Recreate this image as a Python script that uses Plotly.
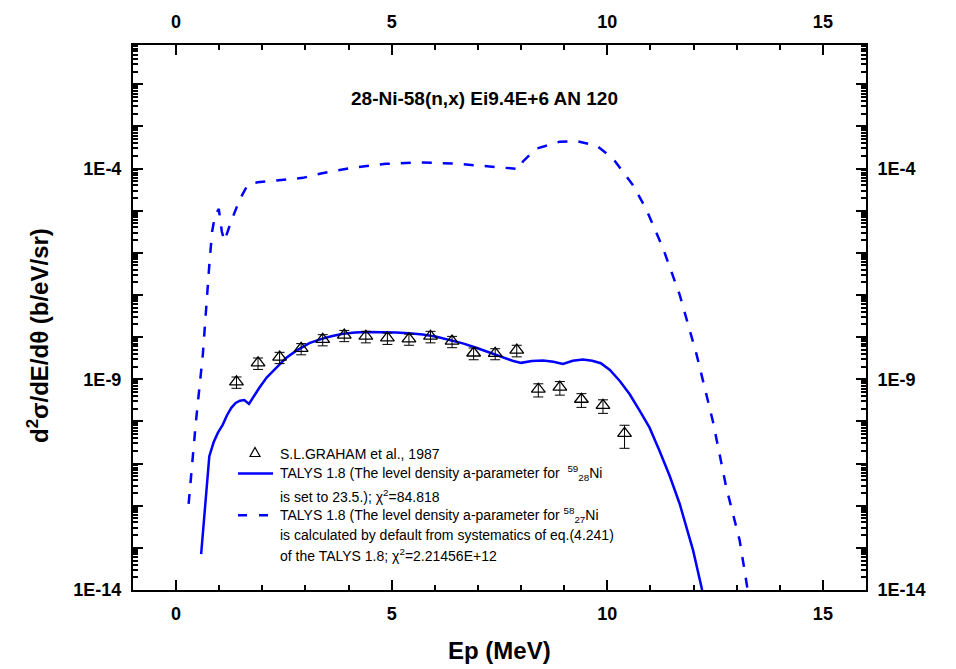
import plotly.graph_objects as go

# ---- Experimental points: S.L. Graham et al., 1987 ----
exp_energy = [1.4, 1.9, 2.4, 2.9, 3.4, 3.9, 4.4, 4.9, 5.4, 5.9,
              6.4, 6.9, 7.4, 7.9, 8.4, 8.9, 9.4, 9.9, 10.4]
exp_xs = [8.7e-10, 2.45e-9, 3.35e-9, 5.4e-9, 8.8e-9, 1.11e-8, 1.05e-8, 9.6e-9, 9.1e-9, 1.05e-8,
          8.0e-9, 4.2e-9, 4.1e-9, 4.9e-9, 5.8e-10, 6.5e-10, 3.35e-10, 2.4e-10, 5.2e-11]
exp_err = [2.6e-10, 7.4e-10, 1.0e-9, 1.6e-9, 2.6e-9, 3.3e-9, 3.2e-9, 2.9e-9, 2.7e-9, 3.2e-9,
           2.4e-9, 1.3e-9, 1.2e-9, 1.5e-9, 2.0e-10, 2.3e-10, 1.2e-10, 8.5e-11, 2.9e-11]

# ---- TALYS 1.8, a-parameter for 59Ni set to 23.5 ----
talys_a_energy = [0.58, 0.77, 0.87, 0.97, 1.08, 1.18, 1.28, 1.38, 1.48, 1.58,
                  1.69, 1.80, 1.93, 2.10, 2.32, 2.55, 2.78, 3.09, 3.32, 3.60,
                  3.87, 4.15, 4.45, 4.80, 5.10, 5.40, 5.72, 6.04, 6.34, 6.65,
                  6.96, 7.27, 7.58, 7.80, 8.00, 8.25, 8.51, 8.75, 8.97, 9.20,
                  9.43, 9.65, 9.85, 10.06, 10.29, 10.52, 10.75, 10.98, 11.21, 11.45,
                  11.68, 11.85, 11.99, 12.20, 12.25]
talys_a_xs = [7.1e-14, 1.5e-11, 3.2e-11, 5.4e-11, 8.3e-11, 1.4e-10, 2.1e-10, 2.75e-10, 3.1e-10, 3.2e-10,
              2.6e-10, 4.0e-10, 6.3e-10, 1.1e-9, 1.9e-9, 3.2e-9, 4.7e-9, 7.2e-9, 8.7e-9, 1.05e-8,
              1.2e-8, 1.29e-8, 1.33e-8, 1.32e-8, 1.29e-8, 1.23e-8, 1.15e-8, 1.02e-8, 8.7e-9, 7.1e-9,
              5.6e-9, 4.3e-9, 3.2e-9, 2.75e-9, 2.45e-9, 2.7e-9, 2.8e-9, 2.6e-9, 2.3e-9, 2.75e-9,
              2.95e-9, 2.75e-9, 2.4e-9, 1.66e-9, 9.1e-10, 4.4e-10, 1.8e-10, 7.1e-11, 2.0e-11, 5.0e-12,
              1.1e-12, 2.8e-13, 8.7e-14, 1.0e-14, 6.3e-15]

# ---- TALYS 1.8, default a-parameter from systematics ----
talys_d_energy = [0.29, 0.46, 0.62, 0.70, 0.77, 0.835, 0.905, 0.99, 1.06, 1.12,
                  1.275, 1.47, 1.66, 1.89, 2.40, 2.94, 3.36, 4.10, 4.87, 5.65,
                  6.42, 7.19, 7.965, 8.04, 8.35, 8.89, 9.28, 9.75, 10.13, 10.59,
                  10.90, 11.29, 11.68, 12.07, 12.45, 12.76, 13.07, 13.22, 13.27]
talys_d_xs = [1.1e-12, 1.0e-10, 3.9e-9, 7.1e-8, 5.2e-7, 3.2e-6, 7.9e-6, 1.1e-5, 3.2e-6, 1.9e-6,
              5.5e-6, 1.8e-5, 4.1e-5, 4.7e-5, 5.3e-5, 6.0e-5, 7.6e-5, 1.05e-4, 1.29e-4, 1.39e-4,
              1.32e-4, 1.15e-4, 9.7e-5, 1.45e-4, 2.95e-4, 4.3e-4, 4.5e-4, 3.5e-4, 1.74e-4, 4.1e-5,
              1.1e-5, 1.3e-6, 1.0e-7, 3.9e-9, 1.0e-10, 2.7e-12, 1.5e-13, 1.7e-14, 7.9e-15]

# ---- axis ticks ----
x_major = [0, 5, 10, 15]
x_minor = [v for v in range(-1, 17) if v % 5 != 0]
y_exponents = list(range(-14, 0))
y_labelled = [-14, -9, -4]
y_tick_text = ["1E-14", "1E-9", "1E-4"]

W, H = 956, 669
L, R, T, B = 133, 866, 43, 590
BLUE = "#0000ff"
FONT = "Liberation Sans, Arial, sans-serif"


def px(x):
    return (x - L) / (R - L)


def py(y):
    return (B - y) / (B - T)


y_label_vals = [10.0 ** e for e in y_labelled]
y_plain_decades = [10.0 ** e for e in y_exponents if e not in y_labelled]
y_minor = [k * 10.0 ** e for e in y_exponents for k in range(2, 10)]

fig = go.Figure()

fig.add_trace(go.Scatter(
    x=talys_d_energy, y=talys_d_xs, mode="lines",
    line=dict(color=BLUE, width=2.5, dash="10px,11px"),
    showlegend=False, cliponaxis=True))
fig.add_trace(go.Scatter(
    x=talys_a_energy, y=talys_a_xs, mode="lines",
    line=dict(color=BLUE, width=2.5),
    showlegend=False, cliponaxis=True))
fig.add_trace(go.Scatter(
    x=exp_energy, y=exp_xs, mode="markers",
    marker=dict(symbol="triangle-up-open", size=12, color="black", line=dict(width=1.3, color="black")),
    error_y=dict(type="data", array=exp_err, visible=True, color="black", thickness=1, width=5),
    showlegend=False))
# empty carrier traces so the mirrored / extra tick axes are laid out
for xa, ya in [("x2", "y2"), ("x", "y3"), ("x", "y4")]:
    fig.add_trace(go.Scatter(x=[None], y=[None], xaxis=xa, yaxis=ya,
                             showlegend=False, hoverinfo="skip"))

tickfont = dict(family=FONT, size=18, color="black", weight="bold")
common_x = dict(range=[-1, 16], tickmode="array", tickvals=x_major, ticks="inside", ticklen=10,
                tickwidth=2, tickcolor="black", showline=True, linewidth=2, linecolor="black",
                showgrid=False, zeroline=False, tickfont=tickfont,
                minor=dict(tickmode="array", tickvals=x_minor, ticks="inside", ticklen=5,
                           tickwidth=2, tickcolor="black", showgrid=False))
common_y = dict(type="log", range=[-14, -1.07], tickmode="array", tickvals=y_label_vals,
                ticktext=y_tick_text, ticks="inside", ticklen=10, tickwidth=2, tickcolor="black",
                showline=True, linewidth=2, linecolor="black", showgrid=False, zeroline=False,
                tickfont=tickfont,
                minor=dict(tickmode="array", tickvals=y_minor, ticks="inside", ticklen=5,
                           tickwidth=1.5, tickcolor="black", showgrid=False))
# long decade ticks without labels
decade_y = dict(type="log", range=[-14, -1.07], tickmode="array", tickvals=y_plain_decades,
                ticks="inside", ticklen=10, tickwidth=2, tickcolor="black", showline=False,
                showgrid=False, zeroline=False, showticklabels=False, overlaying="y", anchor="x")

fig.update_layout(
    width=W, height=H,
    margin=dict(l=L, r=W - R, t=T, b=H - B, pad=0),
    paper_bgcolor="white", plot_bgcolor="white",
    showlegend=False,
    xaxis=dict(**common_x, side="bottom", anchor="y", ticklabelstandoff=6),
    xaxis2=dict(**common_x, side="top", anchor="y", overlaying="x", ticklabelstandoff=8),
    yaxis=dict(**common_y, side="left", anchor="x", ticklabelstandoff=6),
    yaxis2=dict(**common_y, side="right", anchor="x", overlaying="y", ticklabelstandoff=6),
    yaxis3=dict(**decade_y, side="left"),
    yaxis4=dict(**decade_y, side="right"),
)

ann = []
# axis titles and plot title
ann.append(dict(text="<b>Ep (MeV)</b>", x=px(499.5), y=py(651), xref="paper", yref="paper",
                showarrow=False, xanchor="center", yanchor="middle",
                font=dict(family=FONT, size=24, color="black")))
ann.append(dict(text="<b>d<sup>2</sup>σ/dE/dθ (b/eV/sr)</b>", x=px(38), y=py(334), xref="paper",
                yref="paper", showarrow=False, textangle=-90, xanchor="center", yanchor="middle",
                font=dict(family=FONT, size=24, color="black")))
ann.append(dict(text="<b>28-Ni-58(n,x) Ei9.4E+6 AN 120</b>", x=px(484), y=py(97), xref="paper",
                yref="paper", showarrow=False, xanchor="center", yanchor="middle",
                font=dict(family=FONT, size=19, color="black")))

legend_lines = [
    ("S.L.GRAHAM et al., 1987", 453),
    ("TALYS 1.8 (The level density a-parameter for  <sup>59</sup><sub>28</sub>Ni", 473),
    ("is set to 23.5.); χ<sup>2</sup>=84.818", 496),
    ("TALYS 1.8 (The level density a-parameter for <sup>58</sup><sub>27</sub>Ni", 515),
    ("is calculated by default from systematics of eq.(4.241)", 535),
    ("of the TALYS 1.8; χ<sup>2</sup>=2.21456E+12", 555),
]
for txt, yy in legend_lines:
    ann.append(dict(text=txt, x=px(278), y=py(yy), xref="paper", yref="paper", showarrow=False,
                    xanchor="left", yanchor="middle", font=dict(family=FONT, size=14, color="black")))
fig.update_layout(annotations=ann)

# legend keys
cx, cy = 255, 452
tri = (f"M {px(cx - 5)},{py(cy + 4)} L {px(cx + 5)},{py(cy + 4)} "
       f"L {px(cx)},{py(cy - 5)} Z")
shapes = [
    dict(type="path", path=tri, xref="paper", yref="paper", line=dict(color="black", width=1.2)),
    dict(type="line", x0=px(238), x1=px(273), y0=py(473), y1=py(473), xref="paper", yref="paper",
         line=dict(color=BLUE, width=2.5)),
    dict(type="line", x0=px(238), x1=px(270), y0=py(515), y1=py(515), xref="paper", yref="paper",
         line=dict(color=BLUE, width=2.5, dash="9px,12px")),
]
fig.update_layout(shapes=shapes)

fig.write_html("out.html")
